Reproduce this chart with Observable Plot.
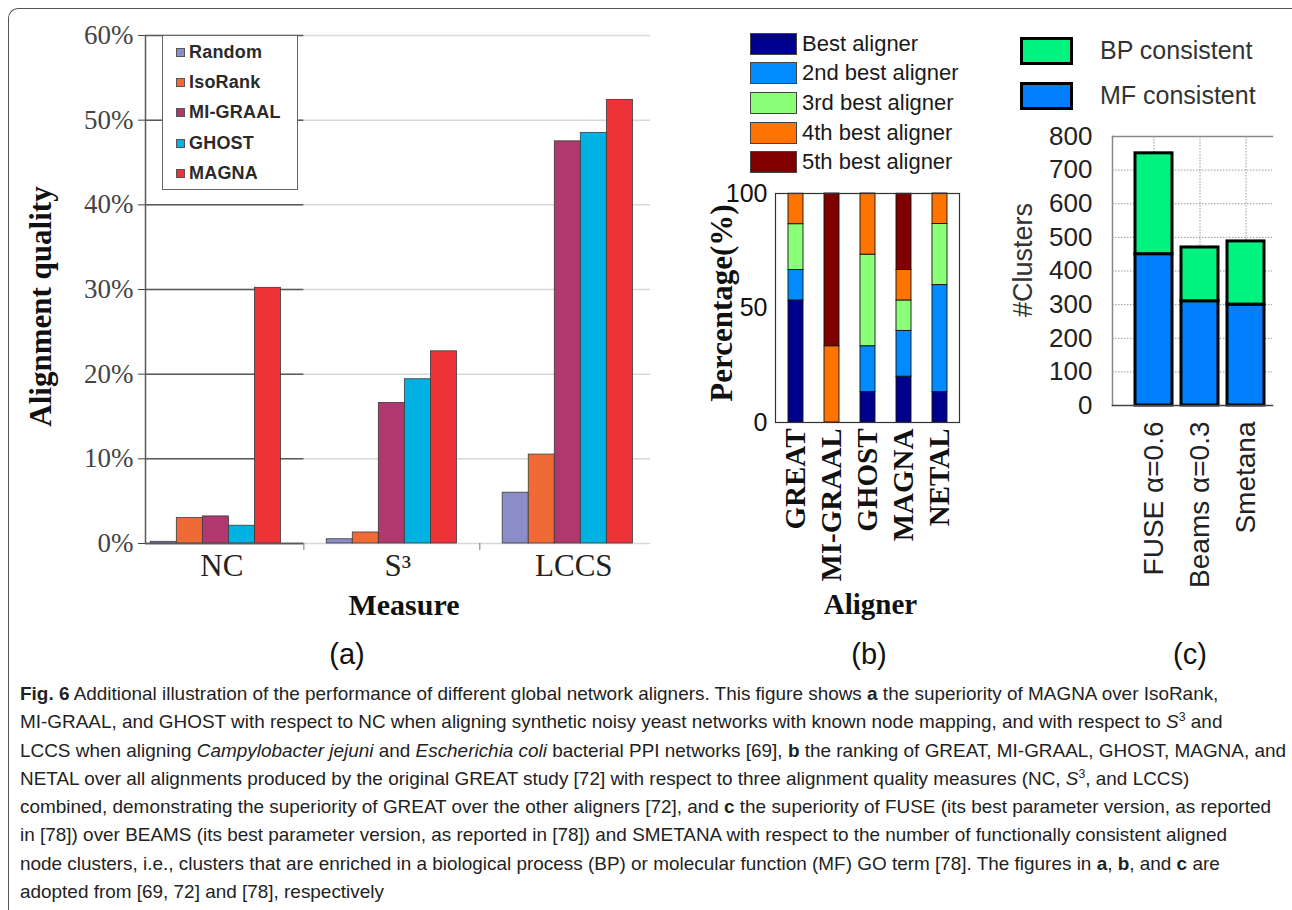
<!DOCTYPE html>
<html><head><meta charset="utf-8">
<script src="https://cdn.jsdelivr.net/npm/d3@7"></script>
<script src="https://cdn.jsdelivr.net/npm/@observablehq/plot@0.6"></script>
<style>
body{margin:0;background:#fff;}
#page{position:relative;width:1292px;height:910px;overflow:hidden;background:#fff;font-family:"Liberation Sans",Arial,sans-serif;color:#222;}
#border{position:absolute;left:8px;top:8px;width:1400px;height:1000px;border-top:1.5px solid #555;border-left:1.5px solid #555;border-top-left-radius:10px;box-sizing:border-box;}
.panel{position:absolute;top:0;}
#legA{position:absolute;left:162px;top:35px;width:136px;height:155px;border:1.5px solid #666;background:#fff;box-sizing:border-box;padding-top:1px;}
#legA .row{height:30.3px;display:flex;align-items:center;padding-left:13px;}
#legA .sw{width:7px;height:7px;border:1px solid #555;margin-right:4px;}
#legA .tx{font-size:18px;font-weight:bold;color:#2a2a2a;letter-spacing:0.2px;}
.legB{position:absolute;left:750px;display:flex;align-items:center;height:29.6px;}
.legB .sw{width:47px;height:22px;border:1px solid #444;box-sizing:border-box;margin-right:5px;}
.legB .tx{font-size:22px;color:#1a1a1a;}
.legC{position:absolute;left:1020px;display:flex;align-items:center;}
.legC .sw{width:53px;height:28px;border:3px solid #000;box-sizing:border-box;margin-right:27px;}
.legC .tx{font-size:25px;color:#333;}
.plab{position:absolute;top:638px;font-size:29px;width:80px;margin-left:-40px;text-align:center;color:#111;}
#caption{position:absolute;left:20px;top:680px;line-height:28.3px;font-family:"Liberation Sans",Arial,sans-serif;font-size:18.5px;color:#222;transform-origin:0 0;}
#caption .ln{white-space:nowrap;display:inline-block;}
</style></head><body>
<div id="page">
<div id="border"></div>
<div id="pa" class="panel" style="left:0px"></div>
<div id="pb" class="panel" style="left:700px"></div>
<div id="pc" class="panel" style="left:990px"></div>
<div id="legA"></div>
<div id="legBwrap"></div>
<div id="legCwrap"></div>
<div class="plab" style="left:347px">(a)</div>
<div class="plab" style="left:869px">(b)</div>
<div class="plab" style="left:1190px">(c)</div>
<div id="caption">
<div><span class="ln"><b>Fig. 6</b> Additional illustration of the performance of different global network aligners. This figure shows <b>a</b> the superiority of MAGNA over IsoRank,</span></div>
<div><span class="ln">MI-GRAAL, and GHOST with respect to NC when aligning synthetic noisy yeast networks with known node mapping, and with respect to <i>S</i><sup style="font-size:0.65em;line-height:0">3</sup> and</span></div>
<div><span class="ln">LCCS when aligning <i>Campylobacter jejuni</i> and <i>Escherichia coli</i> bacterial PPI networks [69], <b>b</b> the ranking of GREAT, MI-GRAAL, GHOST, MAGNA, and</span></div>
<div><span class="ln">NETAL over all alignments produced by the original GREAT study [72] with respect to three alignment quality measures (NC, <i>S</i><sup style="font-size:0.65em;line-height:0">3</sup>, and LCCS)</span></div>
<div><span class="ln">combined, demonstrating the superiority of GREAT over the other aligners [72], and <b>c</b> the superiority of FUSE (its best parameter version, as reported</span></div>
<div><span class="ln">in [78]) over BEAMS (its best parameter version, as reported in [78]) and SMETANA with respect to the number of functionally consistent aligned</span></div>
<div><span class="ln">node clusters, i.e., clusters that are enriched in a biological process (BP) or molecular function (MF) GO term [78]. The figures in <b>a</b>, <b>b</b>, and <b>c</b> are</span></div>
<div><span class="ln">adopted from [69, 72] and [78], respectively</span></div>
</div>
</div>
<script>
// ---------- data: panel (a) ----------
const measures = ["NC", "S³", "LCCS"];
const aligners = ["Random", "IsoRank", "MI-GRAAL", "GHOST", "MAGNA"];
const alignerColors = ["#8a8dc8", "#f06a35", "#b0386e", "#00b2e2", "#ee3338"];
const qualityNC = [0.2, 3.0, 3.2, 2.1, 30.2];
const qualityS3 = [0.5, 1.3, 16.6, 19.4, 22.7];
const qualityLCCS = [6.0, 10.5, 47.5, 48.5, 52.4];
const qualityTicks = [0, 10, 20, 30, 40, 50, 60];

// ---------- data: panel (b) ----------
const rankAligners = ["GREAT", "MI-GRAAL", "GHOST", "MAGNA", "NETAL"];
const rankLabels = ["Best aligner", "2nd best aligner", "3rd best aligner", "4th best aligner", "5th best aligner"];
const rankColors = ["#00008f", "#008cff", "#8cff78", "#ff7300", "#800000"];
const rankGREAT = [53.3, 13.3, 20.0, 13.3, 0];
const rankMIGRAAL = [0, 0, 0, 33.3, 66.7];
const rankGHOST = [13.3, 20.0, 40.0, 26.7, 0];
const rankMAGNA = [20.0, 20.0, 13.3, 13.3, 33.3];
const rankNETAL = [13.3, 46.7, 26.7, 13.3, 0];
const percentTicks = [0, 50, 100];

// ---------- data: panel (c) ----------
const clusterMethods = ["FUSE α=0.6", "Beams α=0.3", "Smetana"];
const mfConsistent = [450, 310, 300];
const bpConsistent = [300, 160, 188];
const consistencyLabels = ["BP consistent", "MF consistent"];
const consistencyColors = ["#00f37f", "#0080ff"];
const clusterTicks = [0, 100, 200, 300, 400, 500, 600, 700, 800];

const serif = "'Liberation Serif','Times New Roman',serif";
const sans = "'Liberation Sans',Arial,sans-serif";
const svgStyle = {background: "transparent", maxWidth: "none", overflow: "visible"};

// ---------- panel (a) ----------
const qualitySeries = [qualityNC, qualityS3, qualityLCCS];
const qualityRows = measures.flatMap((m, mi) => aligners.map((a, ai) => ({measure: m, mi, aligner: a, ai, value: qualitySeries[mi][ai]})));
const barW = 0.148;
const xDom = [-0.4, 2.47];
const boundaries = measures.slice(1).map((m, i) => i + 0.5);
const plotA = Plot.plot({
  width: 700, height: 640, marginLeft: 145, marginRight: 50, marginTop: 35, marginBottom: 97,
  style: svgStyle,
  x: {domain: xDom, axis: null, label: null},
  y: {domain: [0, 60], axis: null, label: null},
  color: {domain: aligners, range: alignerColors},
  marks: [
    Plot.ruleY(qualityTicks, {stroke: "#d8d8d8", strokeWidth: 1.5}),
    Plot.ruleY(qualityTicks, {x1: xDom[0], x2: boundaries[0], stroke: "#5a5a5a", strokeWidth: 1.5}),
    Plot.rect(qualityRows, {
      x1: d => d.mi + (d.ai - 2.5) * barW,
      x2: d => d.mi + (d.ai - 1.5) * barW,
      y1: 0, y2: "value", fill: "aligner", stroke: "#3a3a3a", strokeWidth: 0.8
    }),
    Plot.ruleX([xDom[0]], {y1: 0, y2: 60, stroke: "#5a5a5a", strokeWidth: 1.5}),
    Plot.ruleY([0], {x1: xDom[0], x2: boundaries[0], stroke: "#5a5a5a", strokeWidth: 1.5}),
    Plot.axisY(qualityTicks, {tickSize: 7, tickPadding: 5, tickFormat: d => d + "%", fontSize: 27, fontFamily: serif, color: "#444", label: null}),
    Plot.axisX(boundaries, {tickSize: 7, tickFormat: () => "", color: "#777", label: null}),
    Plot.text(measures, {x: (d, i) => i, y: 0, dy: 23, dx: 6, text: d => d, fontSize: 31, fontFamily: serif, fill: "#222"}),
    Plot.text(["Alignment quality"], {frameAnchor: "left", textAnchor: "middle", lineAnchor: "middle", dx: -104, dy: 17, rotate: -90, fontSize: 31, fontWeight: "bold", fontFamily: serif, fill: "#111"}),
    Plot.text(["Measure"], {frameAnchor: "bottom", textAnchor: "middle", lineAnchor: "middle", dy: 62, dx: 6, fontSize: 30, fontWeight: "bold", fontFamily: serif, fill: "#111"})
  ]
});
document.getElementById("pa").appendChild(plotA);

// ---------- panel (b) ----------
const rankSeries = [rankGREAT, rankMIGRAAL, rankGHOST, rankMAGNA, rankNETAL];
const rankRows = rankAligners.flatMap((a, ai) => rankLabels.map((r, ri) => ({aligner: a, rank: r, value: rankSeries[ai][ri]}))).filter(d => d.value > 0);
const plotB = Plot.plot({
  width: 290, height: 640, marginLeft: 75, marginRight: 31, marginTop: 193, marginBottom: 218,
  style: svgStyle,
  x: {domain: rankAligners, paddingInner: 0.59, paddingOuter: 0.29, axis: null, label: null},
  y: {domain: [0, 100], axis: null, label: null},
  color: {domain: rankLabels, range: rankColors},
  marks: [
    Plot.barY(rankRows, {x: "aligner", y: "value", fill: "rank", stroke: "#111", strokeWidth: 0.9}),
    Plot.frame({stroke: "#333", strokeWidth: 1.2}),
    Plot.axisY(percentTicks, {tickSize: 0, tickPadding: 8, fontSize: 25, fontFamily: sans, color: "#111", label: null}),
    Plot.axisX({tickSize: 0, tickPadding: 6, tickRotate: -90, fontSize: 29, fontWeight: "bold", fontFamily: serif, color: "#111", label: null}),
    Plot.text(["Percentage(%)"], {frameAnchor: "left", textAnchor: "middle", lineAnchor: "middle", dx: -53, dy: -5, rotate: -90, fontSize: 31, fontWeight: "bold", fontFamily: serif, fill: "#111"}),
    Plot.text(["Aligner"], {frameAnchor: "bottom", textAnchor: "middle", lineAnchor: "middle", dy: 182, dx: 3, fontSize: 29, fontWeight: "bold", fontFamily: serif, fill: "#111"})
  ]
});
document.getElementById("pb").appendChild(plotB);

// ---------- panel (c) ----------
const clusterRows = clusterMethods.flatMap((m, i) => [
  {method: m, type: consistencyLabels[1], value: mfConsistent[i]},
  {method: m, type: consistencyLabels[0], value: bpConsistent[i]}
]);
const plotC = Plot.plot({
  width: 302, height: 640, marginLeft: 122, marginRight: 20, marginTop: 136, marginBottom: 235,
  style: svgStyle,
  x: {domain: clusterMethods, paddingInner: 0.187, paddingOuter: 0.305, align: 0.74, axis: null, label: null},
  y: {domain: [0, 800], axis: null, label: null},
  color: {domain: consistencyLabels, range: consistencyColors},
  marks: [
    Plot.gridY(clusterTicks, {stroke: "#999", strokeOpacity: 1, strokeDasharray: "1.5,1.5"}),
    Plot.gridX({stroke: "#999", strokeOpacity: 1, strokeDasharray: "1.5,1.5"}),
    Plot.frame({anchor: "top", stroke: "#888", strokeWidth: 1.5}),
    Plot.frame({anchor: "left", stroke: "#888", strokeWidth: 1.5}),
    Plot.barY(clusterRows, {x: "method", y: "value", fill: "type", stroke: "#000", strokeWidth: 3}),
    Plot.frame({anchor: "bottom", stroke: "#444", strokeWidth: 1.5}),
    Plot.axisY(clusterTicks, {tickSize: 0, tickPadding: 20, fontSize: 26, fontFamily: sans, color: "#222", label: null}),
    Plot.axisX({tickSize: 0, tickPadding: 16, tickRotate: -90, fontSize: 28, fontFamily: sans, color: "#222", label: null}),
    Plot.text(["#Clusters"], {frameAnchor: "left", textAnchor: "middle", lineAnchor: "middle", dx: -89, dy: -11, rotate: -90, fontSize: 27, fontFamily: sans, fill: "#333"})
  ]
});
document.getElementById("pc").appendChild(plotC);

// ---------- legends ----------
const legA = document.getElementById("legA");
aligners.forEach((a, i) => {
  const row = document.createElement("div"); row.className = "row";
  row.innerHTML = `<div class="sw" style="background:${alignerColors[i]}"></div><div class="tx">${a}</div>`;
  legA.appendChild(row);
});
const legB = document.getElementById("legBwrap");
rankLabels.forEach((r, i) => {
  const row = document.createElement("div"); row.className = "legB";
  row.style.top = (29 + i * 29.6) + "px";
  row.innerHTML = `<div class="sw" style="background:${rankColors[i]}"></div><div class="tx">${r}</div>`;
  legB.appendChild(row);
});
const legC = document.getElementById("legCwrap");
consistencyLabels.forEach((r, i) => {
  const row = document.createElement("div"); row.className = "legC";
  row.style.top = (36 + i * 45) + "px";
  row.innerHTML = `<div class="sw" style="background:${consistencyColors[i]}"></div><div class="tx">${r}</div>`;
  legC.appendChild(row);
});

// ---------- caption: one uniform horizontal condensation so the widest line fits ----------
const widths = Array.from(document.querySelectorAll("#caption .ln"), el => el.getBoundingClientRect().width);
const cap = document.getElementById("caption");
cap.style.transform = `scaleX(${1266 / Math.max(...widths)})`;
</script>
</body></html>
